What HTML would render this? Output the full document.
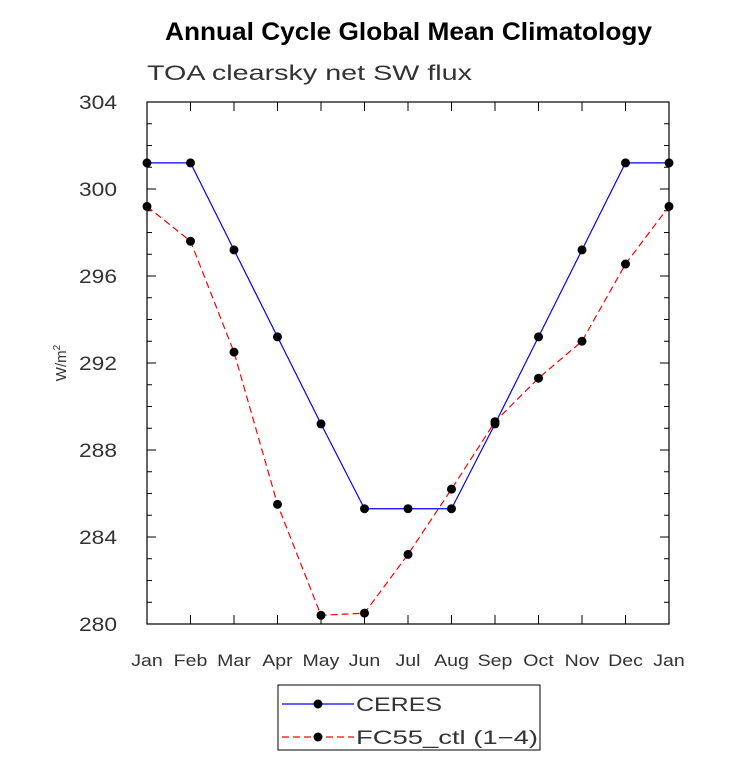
<!DOCTYPE html>
<html><head><meta charset="utf-8"><style>
body{margin:0;background:#fff;}
svg{display:block;font-family:"Liberation Sans",sans-serif;}
</style></head><body>
<svg id="chart" width="733" height="761">
<text x="165" y="40" textLength="487" lengthAdjust="spacingAndGlyphs" font-size="25" font-weight="bold">Annual Cycle Global Mean Climatology</text>
<text x="147" y="80" textLength="325" lengthAdjust="spacingAndGlyphs" font-size="21" fill="#333">TOA clearsky net SW flux</text>
<text transform="translate(66,363) rotate(-90)" text-anchor="middle" font-size="15" fill="#333">W/m<tspan dy="-6" font-size="10">2</tspan></text>
<g id="axes"></g>
<g id="series"></g>
<g>
<rect x="278" y="685" width="262" height="65" fill="#fff" stroke="#000" stroke-width="1"/>
<line x1="282" y1="704" x2="354" y2="704" stroke="#0000ff" stroke-width="1.2"/>
<circle cx="318" cy="704" r="4.5" fill="#000"/>
<text x="356" y="711" textLength="86" lengthAdjust="spacingAndGlyphs" font-size="19" fill="#333">CERES</text>
<line x1="282" y1="737" x2="354" y2="737" stroke="#ff0000" stroke-width="1.2" stroke-dasharray="7,4"/>
<circle cx="318" cy="737" r="4.5" fill="#000"/>
<text x="356" y="744" textLength="182" lengthAdjust="spacingAndGlyphs" font-size="19" fill="#333">FC55_ctl (1−4)</text>
</g>
</svg>
<script>
const months=["Jan","Feb","Mar","Apr","May","Jun","Jul","Aug","Sep","Oct","Nov","Dec","Jan"];
const ceres=[301.2,301.2,297.2,293.2,289.2,285.3,285.3,285.3,289.2,293.2,297.2,301.2,301.2];
const fc55=[299.2,297.6,292.5,285.5,280.4,280.5,283.2,286.2,289.3,291.3,293.0,296.55,299.2];
const yTicks=[280,284,288,292,296,300,304];
const X0=147,X1=669,Y0=624,Y1=102,YMIN=280,YMAX=304;
const NS="http://www.w3.org/2000/svg";
const xs=i=>X0+i*(X1-X0)/(months.length-1);
const ys=v=>Y0-(v-YMIN)/(YMAX-YMIN)*(Y0-Y1);
const ax=document.getElementById('axes'),sg=document.getElementById('series');
function mk(tag,at,p){const e=document.createElementNS(NS,tag);for(const k in at)e.setAttribute(k,at[k]);p.appendChild(e);return e;}
const fr=mk('rect',{x:X0,y:Y1,width:X1-X0,height:Y0-Y1,fill:'none',stroke:'#000','stroke-width':1.2},ax);


for(let v=YMIN;v<=YMAX;v++){
  const major=yTicks.includes(v),L=major?9:5,y=ys(v);
  mk('line',{x1:X0,y1:y,x2:X0+L,y2:y,stroke:'#000'},ax);
  mk('line',{x1:X1,y1:y,x2:X1-L,y2:y,stroke:'#000'},ax);
}
yTicks.forEach(v=>{
  const t=mk('text',{x:X0-30,y:ys(v)+7,'text-anchor':'end','font-size':19,fill:'#333',textLength:38,lengthAdjust:'spacingAndGlyphs'},ax);
  t.textContent=v;
  
  
});
months.forEach((m,i)=>{
  const x=xs(i);
  mk('line',{x1:x,y1:Y0,x2:x,y2:Y0-9,stroke:'#000'},ax);
  mk('line',{x1:x,y1:Y1,x2:x,y2:Y1+9,stroke:'#000'},ax);
  const t=mk('text',{x:x,y:Y0+42,'text-anchor':'middle','font-size':17,fill:'#333',transform:'translate('+x+',0) scale(1.15,1) translate('+(-x)+',0)'},ax);
  t.textContent=m;
  
  
});
function draw(vals,color,dash,name){
  const pl=mk('polyline',{points:vals.map((v,i)=>xs(i)+','+ys(v)).join(' '),fill:'none',stroke:color,'stroke-width':1.2,'stroke-dasharray':dash},sg);
  
  
  vals.forEach((v,i)=>{
    const c=mk('circle',{cx:xs(i),cy:ys(v),r:4.5,fill:'#000'},sg);
    
    
  });
}
draw(ceres,'#0000ff','none','ceres');
draw(fc55,'#ff0000','7,4','fc55');
</script>
</body></html>
